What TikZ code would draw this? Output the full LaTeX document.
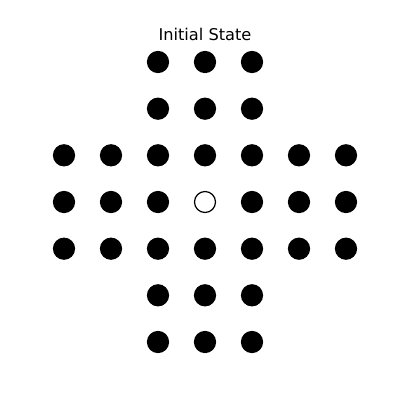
\documentclass[tikz,border=0pt]{standalone}
\usepackage{fontspec}
\setmainfont{DejaVu Sans}
\begin{document}
\begin{tikzpicture}[x=1pt,y=-1pt,
  peg/.style={circle,fill=black,draw=black,line width=1.2pt,minimum size=21pt,inner sep=0pt},
  hole/.style={circle,fill=white,draw=black,line width=1.2pt,minimum size=21pt,inner sep=0pt}]
\useasboundingbox[fill=white] (0,0) rectangle (400,400);
\node[font=\fontsize{16.2}{18}\selectfont] (title) at (205,34) {Initial State};
\foreach \r/\yy in {0/62,1/108.7,2/155.3,3/202,4/248.7,5/295.3,6/342}{
  \foreach \c/\xx in {0/64,1/111,2/158,3/205,4/252,5/299,6/346}{
    \pgfmathtruncatemacro{\inside}{((\r>=2 && \r<=4) || (\c>=2 && \c<=4)) ? 1 : 0}
    \pgfmathtruncatemacro{\center}{(\r==3 && \c==3) ? 1 : 0}
    \ifnum\inside=1
      \ifnum\center=1
        \node[hole] (p\r\c) at (\xx,\yy) {};
      \else
        \node[peg] (p\r\c) at (\xx,\yy) {};
      \fi
    \fi
  }
}
\end{tikzpicture}
\end{document}
